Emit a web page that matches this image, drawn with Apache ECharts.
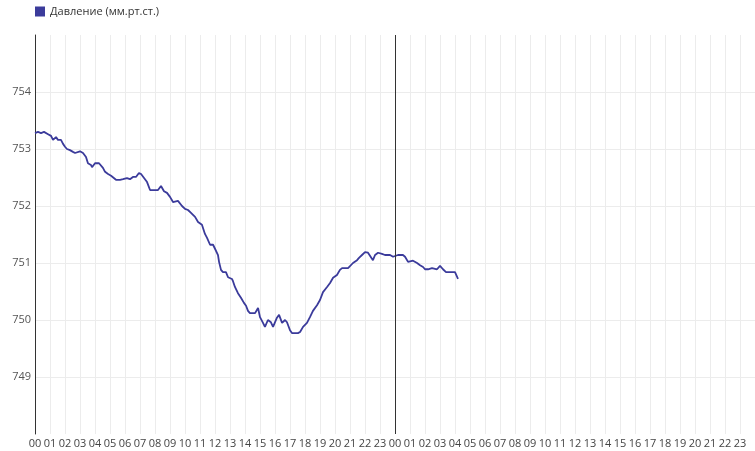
<!DOCTYPE html>
<html>
<head>
<meta charset="utf-8">
<script src="https://cdn.jsdelivr.net/npm/echarts@6/dist/echarts.min.js"></script>
<style>html,body{margin:0;padding:0;background:#fff}#c{width:755px;height:451px}</style>
</head>
<body>
<div id="c"></div>
<script>
const seriesName = 'Давление (мм.рт.ст.)';
// hours since start of day 1
const hours = [0,0.2,0.4,0.6,0.73,0.87,1.07,1.2,1.4,1.53,1.73,1.87,2.0,2.13,2.33,2.53,2.67,2.8,3.0,3.2,3.4,3.53,3.73,3.8,4.0,4.27,4.4,4.53,4.67,4.87,5.07,5.2,5.4,5.67,5.87,6.13,6.33,6.53,6.73,6.93,7.07,7.27,7.47,7.67,7.8,8.0,8.2,8.4,8.6,8.8,9.0,9.2,9.33,9.53,9.8,10.0,10.2,10.4,10.67,10.87,11.13,11.33,11.47,11.67,11.87,12.0,12.2,12.27,12.4,12.53,12.73,12.87,13.0,13.13,13.2,13.33,13.53,13.73,13.93,14.07,14.2,14.33,14.53,14.67,14.87,15.0,15.2,15.33,15.53,15.73,15.87,16.13,16.27,16.47,16.67,16.8,17.0,17.13,17.33,17.53,17.67,17.87,18.13,18.33,18.53,18.8,19.0,19.2,19.47,19.67,19.87,20.13,20.33,20.47,20.67,20.87,21.0,21.2,21.47,21.6,21.8,22.0,22.2,22.33,22.53,22.67,22.87,23.13,23.33,23.67,23.87,24.0,24.2,24.53,24.67,24.87,25.0,25.2,25.47,25.67,25.87,26.0,26.2,26.47,26.8,27.0,27.2,27.4,27.67,28.0,28.13,28.2];
const pressure = [753.28,753.30,753.28,753.30,753.28,753.26,753.23,753.16,753.21,753.16,753.16,753.09,753.04,753.00,752.98,752.95,752.93,752.91,752.96,752.93,752.86,752.75,752.72,752.68,752.75,752.75,752.74,752.67,752.60,752.56,752.53,752.51,752.46,752.46,752.47,752.49,752.47,752.51,752.51,752.58,752.56,752.49,752.42,752.28,752.25,752.28,752.28,752.35,752.26,752.23,752.16,752.07,752.09,752.09,752.00,751.95,751.93,751.88,751.81,751.72,751.67,751.51,751.44,751.32,751.32,751.25,751.14,751.02,750.88,750.84,750.84,750.75,750.75,750.72,750.68,750.58,750.47,750.39,750.30,750.25,750.16,750.12,750.12,750.12,750.21,750.05,749.95,749.88,750.00,749.96,749.88,750.04,750.09,749.95,750.00,749.96,749.82,749.77,749.77,749.77,749.79,749.88,749.95,750.05,750.16,750.26,750.35,750.49,750.58,750.65,750.74,750.79,750.88,750.91,750.91,750.91,750.93,751.00,751.05,751.09,751.14,751.19,751.18,751.18,751.05,751.14,751.18,751.16,751.14,751.14,751.11,751.12,751.14,751.14,751.11,751.02,751.00,751.04,751.00,750.96,750.93,750.89,750.89,750.91,750.89,750.95,750.89,750.84,750.84,750.84,750.82,750.72];
const yMin = 748, yMax = 755, xMin = 0, xMax = 48, midnight = 24;

const data = hours.map((h, i) => [h, pressure[i]]);
const pad = n => (n < 10 ? '0' : '') + n;
const lineColor = '#3b3b9b';

const chart = echarts.init(document.getElementById('c'), null, {renderer: 'canvas'});
chart.setOption({
  animation: false,
  textStyle: {fontFamily: 'Open Sans'},
  legend: {
    left: 30, top: 1, icon: 'rect', itemWidth: 10, itemHeight: 10, itemGap: 5,
    textStyle: {fontSize: 11, color: '#333', fontFamily: 'Open Sans'},
    data: [{name: seriesName, itemStyle: {color: lineColor}}]
  },
  grid: {left: 35, right: 0, top: 35, bottom: 17, containLabel: false},
  xAxis: {
    type: 'value', min: xMin, max: xMax, interval: 1,
    axisLine: {show: false}, axisTick: {show: false},
    axisLabel: {
      margin: 4, fontSize: 11, color: '#444', fontFamily: 'Open Sans',
      showMaxLabel: false,
      formatter: v => pad(v % 24)
    },
    splitLine: {show: true, lineStyle: {color: '#ececec', width: 1}}
  },
  yAxis: {
    type: 'value', min: yMin, max: yMax, interval: 1,
    axisLine: {show: true, lineStyle: {color: '#333', width: 1}},
    axisTick: {show: false},
    axisLabel: {
      margin: 4, fontSize: 11, color: '#555', fontFamily: 'Open Sans',
      showMinLabel: false, showMaxLabel: false
    },
    splitLine: {show: true, showMinLine: false, showMaxLine: false, lineStyle: {color: '#ececec', width: 1}}
  },
  series: [{
    name: seriesName, type: 'line', data: data,
    showSymbol: false, symbol: 'none',
    lineStyle: {color: lineColor, width: 1.8},
    itemStyle: {color: lineColor},
    markLine: {
      silent: true, symbol: 'none', label: {show: false},
      lineStyle: {color: '#333', width: 1, type: 'solid'},
      data: [{xAxis: midnight}]
    }
  }]
});
</script>
</body>
</html>
